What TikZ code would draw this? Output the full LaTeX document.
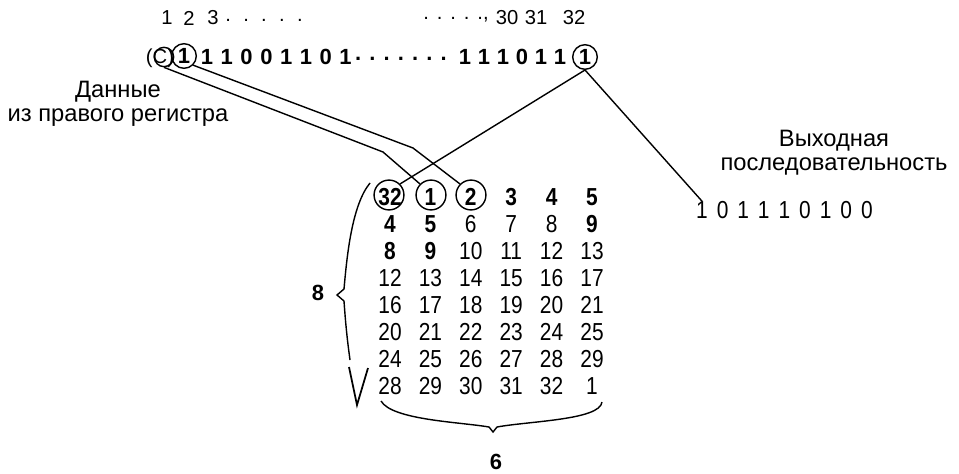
\documentclass[tikz,border=0pt]{standalone}
\usepackage{fontspec}
\setmainfont{Liberation Sans}
\newfontfamily\numfont[FakeStretch=0.85]{Liberation Sans}
\usetikzlibrary{positioning}

\newcommand{\dotrow}[2]{% #1 = number of dots, #2 = gap
  .\foreach \k in {2,...,#1}{\hspace{#2}.}}

\begin{document}
\begin{tikzpicture}[
  x=0.02cm, y=-0.02cm,
  caption/.style={font=\fontsize{13.5}{13.6}\selectfont, align=center, inner sep=0pt},
  idx/.style={font=\fontsize{11.5}{13}\selectfont, inner sep=0pt},
  num/.style={font=\fontsize{14}{15}\selectfont\numfont, inner sep=0pt},
  bit/.style={font=\fontsize{12.5}{15}\selectfont\bfseries, inner sep=0pt},
  ring/.style={draw, circle, line width=0.8pt, inner sep=0pt, minimum size=14pt},
  wire/.style={line width=0.8pt}
]
\useasboundingbox (0,0) rectangle (959,473);

% bit numbers
\foreach \x/\t in {167/1, 189/2, 213/3, 507/30, 536/31, 574/32}{
  \node[idx] (n\t) at (\x,18) {\t};
}
\node[idx, anchor=west] (ndotsl) at (225,20) {\dotrow{5}{7pt}};
\node[idx, anchor=west] (ndotsr) at (423,20) {\dotrow{5}{4.5pt},};

% register contents
\node[idx] (cpar) at (160,58) {(C)};
\node[ring, minimum size=11pt] (cring) at (164,57) {};
\node[bit, ring] (b1) at (184,56) {1};
\foreach \i/\b in {0/1, 1/1, 2/0, 3/0, 4/1, 5/1, 6/0, 7/1}{
  \node[bit] (bl\i) at (207+19.8*\i,57) {\b};
}
\node[bit] (bdots) at (401,59) {. . . . . . .};
\foreach \i/\b in {0/1, 1/1, 2/1, 3/0, 4/1, 5/1}{
  \node[bit] (br\i) at (465+19*\i,57) {\b};
}
\node[bit, ring] (b32) at (585,57) {1};

\node[caption] (data) at (118,104) {Данные\\из правого регистра};
\node[caption] (outlbl) at (834,153) {Выходная\\последовательность};

% output bits
\foreach \i/\b in {0/1, 1/0, 2/1, 3/1, 4/1, 5/0, 6/1, 7/0, 8/0}{
  \node[num] (o\i) at (702+20.6*\i,210) {\b};
}

% expansion table, 8 x 6
\foreach \r in {0,...,7}{
  \foreach \c in {0,...,5}{
    \pgfmathtruncatemacro{\v}{mod(4*\r+\c+31,32)+1}
    \pgfmathtruncatemacro{\bf}{(\r==0)||(\r==1&&(\c<2||\c==5))||(\r==2&&\c<2)}
    \node[num] (e-\r-\c) at (390+40.4*\c,197+27*\r) {\ifnum\bf=1 \bfseries\fi\v};
  }
}
\node[ring, minimum size=17pt] (t32) at (389,195) {};
\node[ring, minimum size=17pt] (t1) at (431,195) {};
\node[ring, minimum size=17pt] (t2) at (471,195) {};

% wires
\coordinate (k1) at (383,152);
\coordinate (k2) at (413,148);
\draw[wire] (cring.south) -- (k1) -- (t1.north west);
\draw[wire] (b1.south east) -- (k2) -- (t2.north west);
\draw[wire] (b32.south) -- (t32.north east);
\draw[wire] (b32.south) -- (o0.north);

% braces
\draw[wire] (370,183) .. controls (352,205) and (347,255) .. (344,289)
  -- (337,295) -- (344,301) .. controls (346,330) and (348,345) .. (350,360);
\draw[wire, line width=1pt] (349,367) -- (357,405) -- (368,368);
\node[bit] (rows) at (318,293) {8};
\draw[wire] (381,401) .. controls (392,420) and (460,422) .. (489,427)
  -- (493,432) -- (497,427) .. controls (530,421) and (600,420) .. (602,402);
\node[bit] (cols) at (496,462) {6};
\end{tikzpicture}
\end{document}
